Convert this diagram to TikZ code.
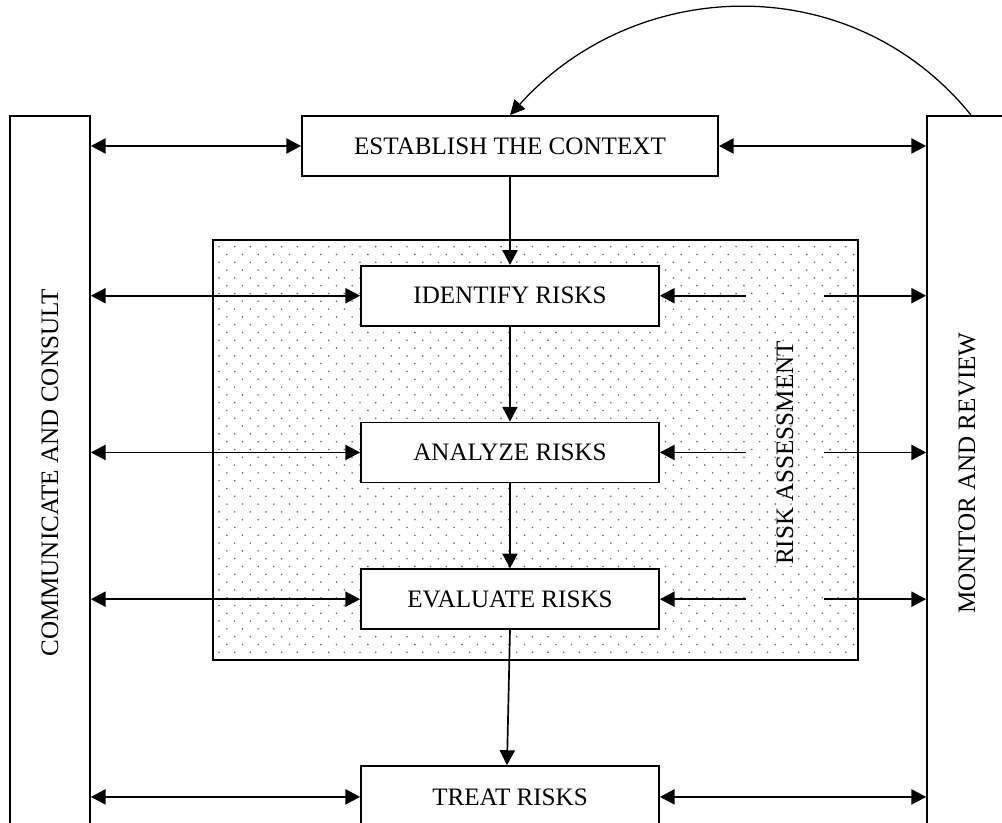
\documentclass[tikz,border=0pt]{standalone}
\usepackage{fontspec}
\setmainfont{Liberation Serif}
\usetikzlibrary{arrows.meta, positioning, backgrounds}

\begin{document}
\begin{tikzpicture}[
      x=0.025cm, y=0.025cm,
      font=\fontsize{17.85}{20}\selectfont,
      box/.style={rectangle, draw, fill=white, line width=1.2pt, text centered, minimum width=7.45cm, minimum height=1.5cm, inner sep=0pt},
      sidebox/.style={rectangle, draw, fill=white, line width=1.2pt, minimum width=2cm, minimum height=17.85cm, inner sep=0pt},
      arrow/.style={line width=1.2pt, -{Triangle[length=0.37cm, width=0.38cm]}},
      twoway/.style={line width=1.2pt, {Triangle[length=0.37cm, width=0.38cm]}-{Triangle[length=0.37cm, width=0.38cm]}},
      speck/.style={fill=black!60}
    ]
      \useasboundingbox (0,0) rectangle (1002,823);
      \clip (0,0) rectangle (1002,823);

      % side columns
      \node (communicate) [sidebox] at (50,350) {\rotatebox{90}{COMMUNICATE AND CONSULT}};
      \node (monitor) [sidebox] at (967,350) {\rotatebox{90}{MONITOR AND REVIEW}};

      % risk assessment area
      \node (assess) [rectangle, draw, line width=1.2pt, minimum width=16.125cm, minimum height=10.5cm] at (535.5,373) {};
      \begin{scope}[on background layer]
        \clip (assess.south west) rectangle (assess.north east);
        \foreach \j in {0,...,53}
          \foreach \i in {0,...,41}
            \fill [speck] ({219+15.67*\i+7.83*mod(\j,2)}, {576.3-7.8*\j}) circle (0.9);
      \end{scope}
      \node (assesslabel) [minimum width=1.95cm, inner sep=0pt] at (785,370) {\rotatebox{90}{RISK ASSESSMENT}};

      % process steps
      \node (establish) [box, minimum width=10.4cm] at (510,677) {ESTABLISH THE CONTEXT};
      \node (identify) [box, below=2.2cm of establish] {IDENTIFY RISKS};
      \node (analyze) [box, below=2.375cm of identify] {ANALYZE RISKS};
      \node (evaluate) [box, below=2.125cm of analyze] {EVALUATE RISKS};
      \node (treat) [box, minimum height=1.55cm, below=3.375cm of evaluate] {TREAT RISKS};

      \draw [arrow] (establish) -- (identify);
      \draw [arrow] (identify) -- (analyze);
      \draw [arrow] (analyze) -- (evaluate);
      \draw [arrow] (evaluate.south) -- ([xshift=-0.075cm]treat.north);

      % links to the side columns
      \foreach \step in {establish, identify, analyze, evaluate, treat}
        \draw [twoway] (\step.west -| communicate.east) -- (\step.west);
      \draw [twoway] (establish.east) -- (establish.east -| monitor.west);
      \draw [twoway] (treat.east) -- (treat.east -| monitor.west);
      \foreach \step in {identify, analyze, evaluate} {
        \draw [arrow] (\step.east -| assesslabel.west) -- (\step.east);
        \draw [arrow] (\step.east -| assesslabel.east) -- (\step.east -| monitor.west);
      }

      % feedback loop
      \draw [line width=0.9pt, -{Triangle[length=0.37cm, width=0.36cm]}] ([xshift=0.1cm]monitor.north) to[out=129, in=48, looseness=1.05] (establish.north);
    \end{tikzpicture}
\end{document}
